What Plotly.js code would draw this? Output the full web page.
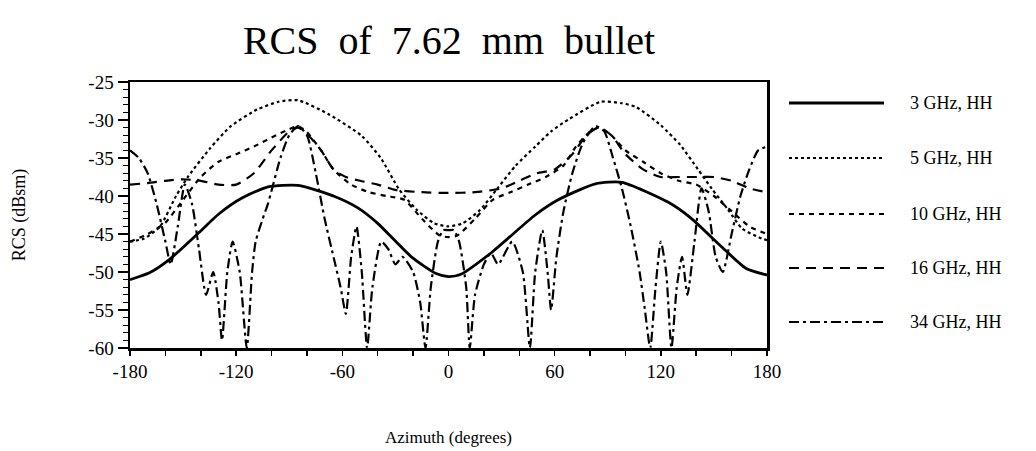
<!DOCTYPE html>
<html>
<head>
<meta charset="utf-8">
<script src="https://cdn.plot.ly/plotly-3.0.1.min.js"></script>
<style>html,body{margin:0;padding:0;background:#fff;}#chart{width:1036px;height:451px;}</style>
</head>
<body>
<div id="chart"></div>
<script>
// ---- data ----
const seriesNames = ["3 GHz, HH", "5 GHz, HH", "10 GHz, HH", "16 GHz, HH", "34 GHz, HH"];

const az3  = [-180,-169,-158,-141,-130,-117,-102,-85,-64,-51,-40,-21,-7,0,7,24,49,62,83,98,124,137,154,168,180];
const rcs3 = [-51,-50.1,-48.4,-44.8,-42.4,-40.3,-38.8,-38.6,-40.1,-41.6,-43.6,-48,-50.2,-50.6,-50.3,-47.5,-42.5,-40.5,-38.4,-38.2,-40.8,-42.9,-46.6,-49.5,-50.4];

const az5  = [-180,-172,-163,-154,-147,-135,-123,-108,-96,-85,-68,-49,-38,-28,-18,-8,0,8,18,28,38,49,58,68,86,98,106,120,131,141,149,158,166,177,180];
const rcs5 = [-46,-45.6,-44,-40,-37.4,-33.8,-30.8,-28.6,-27.6,-27.4,-29.2,-32.1,-35.1,-39.1,-41.8,-43.6,-44,-43.6,-41.8,-38.9,-36,-33.5,-31.5,-29.9,-27.6,-27.8,-28.3,-30.7,-33.3,-36.5,-39.1,-41.8,-44.3,-45.6,-45.8];

const az10  = [-180,-170,-160,-150,-140,-130,-120,-110,-100,-90,-85,-80,-72,-65,-55,-45,-35,-25,-15,-5,0,5,15,25,35,45,55,65,72,80,85,92,100,110,120,130,140,150,160,170,180];
const rcs10 = [-46,-45,-43.5,-40.5,-37.5,-35.5,-34.5,-33.5,-32.3,-31.2,-30.8,-31.6,-34,-36.5,-38.5,-39.5,-40,-40.5,-43,-45.2,-45.4,-45.2,-43,-40.5,-39.5,-38.5,-37.5,-36,-33.5,-31.5,-31,-32,-34,-35.5,-37,-38,-38.5,-40,-42,-44,-45];

const az16  = [-180,-170,-160,-150,-140,-130,-120,-110,-100,-90,-85,-80,-72,-65,-58,-50,-40,-30,-15,0,15,30,40,50,60,70,78,85,92,100,110,120,130,140,150,160,170,180];
const rcs16 = [-38.5,-38.3,-38,-37.8,-38,-38.5,-38.5,-37,-34,-31.5,-31,-31.8,-34,-36.5,-37.5,-38,-38.5,-39.2,-39.5,-39.6,-39.5,-39,-38,-37,-36.5,-34.5,-32,-31,-32,-34.5,-36.5,-37.5,-37.5,-37.5,-37.5,-38,-39,-39.5];

const az34  = [-180,-175,-170,-165,-160,-157,-153,-149,-145,-141,-137,-133,-130,-128,-125,-122,-118,-114,-111,-109,-105,-102,-95,-90,-85,-80,-75,-70,-65,-61,-58,-55,-52,-49,-46,-43,-38,-34,-30,-26,-20,-16,-13,-10,-6,-3,0,3,6,10,12,15,20,24,28,36,42,46,49,53,56,58,61,65,70,76,83,88,93,98,103,108,111,114,117,120,123,126,129,132,135,139,143,147,151,155,160,165,170,175,180];
const rcs34 = [-34,-35,-37,-41,-46,-49,-44,-38.5,-41,-47,-53,-50,-54,-59,-50,-46,-50,-60,-50,-46,-43,-41,-35,-32,-30.8,-32,-37,-43,-48,-52,-55.5,-48,-44,-50,-60,-52,-46,-47,-49,-48,-50,-54,-60,-52,-46,-44.5,-44.5,-44.5,-46,-52,-60,-53,-49,-47.5,-49,-46,-50,-60,-50,-44.5,-50,-55,-48,-42,-37,-33,-30.8,-31.5,-35,-39,-44,-50,-55,-60,-52,-46,-50,-60,-52,-48,-53,-46,-39,-42,-48,-50,-45,-40,-36.5,-34,-33.5];

const xTicks = [-180,-120,-60,0,60,120,180];
const yTicks = [-25,-30,-35,-40,-45,-50,-55,-60];
const chartTitle = "RCS\u00a0\u00a0of\u00a0\u00a07.62\u00a0\u00a0mm\u00a0\u00a0bullet";
const xTitle = "Azimuth (degrees)";
const yTitle = "RCS (dBsm)";

// ---- styles ----
const serif = "Liberation Serif, Times New Roman, serif";
const styles = [
  {width: 2.8, dash: "solid"},
  {width: 2.2, dash: "3px,3px"},
  {width: 2.2, dash: "5px,5px"},
  {width: 2.2, dash: "10px,7px"},
  {width: 2.2, dash: "10px,4px,3px,4px"}
];
const xs = [az3, az5, az10, az16, az34];
const ys = [rcs3, rcs5, rcs10, rcs16, rcs34];

const traces = xs.map((x, i) => ({
  type: "scatter", mode: "lines", x: x, y: ys[i], name: seriesNames[i],
  line: {color: "#000", width: styles[i].width, dash: styles[i].dash, shape: "spline", smoothing: 0.6},
  showlegend: false
}));

// custom legend (positions in paper/pixel terms)
const W = 1036, H = 451, L = 130, R = 269, T = 82, B = 103;
const pw = W - L - R, ph = H - T - B;
const px2x = p => (p - L) / pw;
const py2y = p => 1 - (p - T) / ph;
const legY = [103, 158, 214, 268, 322];
const shapes = [], annotations = [];
seriesNames.forEach((n, i) => {
  shapes.push({type: "line", xref: "paper", yref: "paper", x0: px2x(789), x1: px2x(884), y0: py2y(legY[i]), y1: py2y(legY[i]),
    line: {color: "#000", width: styles[i].width, dash: styles[i].dash}});
  annotations.push({xref: "paper", yref: "paper", x: px2x(908), y: py2y(legY[i]), xanchor: "left", yanchor: "middle",
    text: n, showarrow: false, font: {family: serif, size: 18, color: "#000"}});
});

const layout = {
  width: W, height: H,
  margin: {l: L, r: R, t: T, b: B, pad: 0},
  paper_bgcolor: "#fff", plot_bgcolor: "#fff",
  title: {text: chartTitle, x: 449 / W, xanchor: "center", y: 1 - 40 / H, yanchor: "middle",
    font: {family: serif, size: 40, color: "#000"}},
  xaxis: {
    range: [-180, 180], tickvals: xTicks, ticktext: xTicks.map(String),
    ticks: "outside", ticklen: 5, tickwidth: 1.5, tickcolor: "#000",
    minor: {dtick: 20, tick0: 0, ticks: "outside", ticklen: 5, tickcolor: "#000", tickwidth: 1.5},
    showline: true, linecolor: "#000", linewidth: 2.5, mirror: true,
    showgrid: false, zeroline: false,
    tickfont: {family: serif, size: 19, color: "#000"},
    title: {text: xTitle, font: {family: serif, size: 17, color: "#000"}, standoff: 50}
  },
  yaxis: {
    range: [-60, -25], tickvals: yTicks, ticktext: yTicks.map(String),
    ticks: "outside", ticklen: 10, tickwidth: 1.5, tickcolor: "#000",
    minor: {dtick: 1, tick0: 0, ticks: "outside", ticklen: 5, tickcolor: "#000", tickwidth: 1.2},
    showline: true, linecolor: "#000", linewidth: 2.5, mirror: true,
    showgrid: false, zeroline: false,
    tickfont: {family: serif, size: 19, color: "#000"},
    title: {text: yTitle, font: {family: serif, size: 18, color: "#000"}, standoff: 58}
  },
  shapes: shapes, annotations: annotations
};

Plotly.newPlot("chart", traces, layout, {displayModeBar: false, staticPlot: true});
</script>
</body>
</html>
